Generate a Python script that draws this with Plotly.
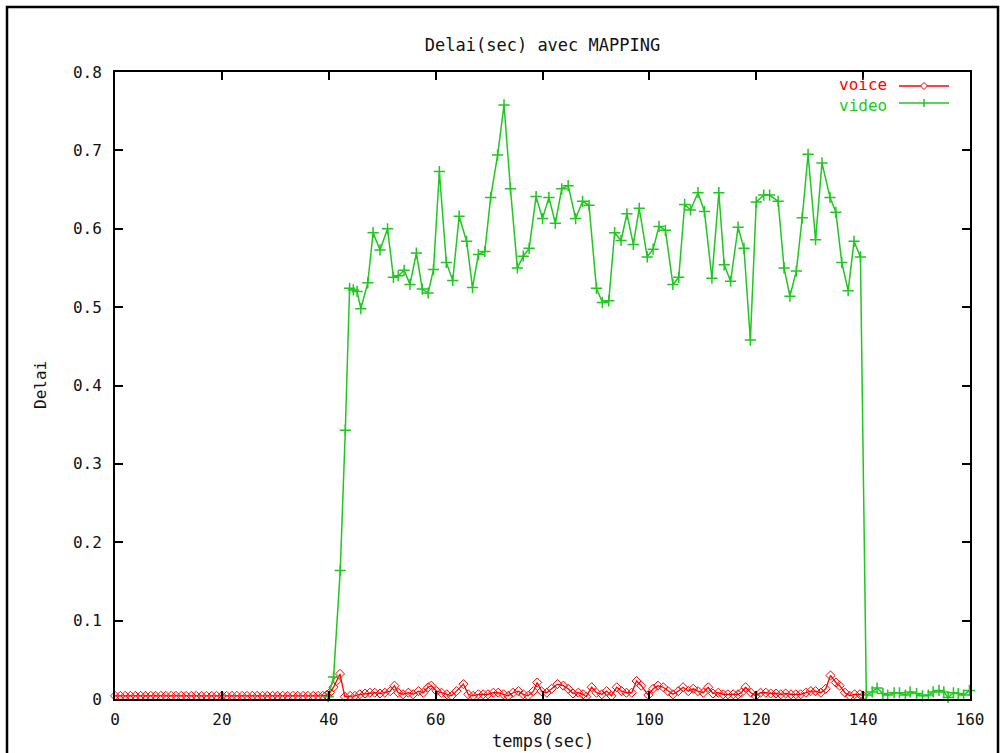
import plotly.graph_objects as go

# ---------------- data ----------------
voice_t = [0, 1, 1.9, 2.9, 3.8, 4.8, 5.7, 6.7, 7.6, 8.6, 9.5, 10.5, 11.4, 12.4, 13.3, 14.3,
           15.2, 16.2, 17.1, 18.1, 19.0, 20.0, 20.9, 21.9, 22.8, 23.8, 24.7, 25.7, 26.6, 27.6,
           28.5, 29.5, 30.4, 31.4, 32.3, 33.3, 34.2, 35.2, 36.1, 37.1, 38.0, 38.9,
           39.6, 40.2, 40.9, 41.5, 42.1, 43.0, 44.0, 44.9, 45.8, 46.8, 47.7, 48.6, 49.6, 50.5,
           51.5, 52.3, 53.0, 53.9, 54.9, 55.8, 56.8, 57.7, 58.6, 59.2, 60.2, 61.1, 62.1, 63.0,
           63.9, 65.2, 66.1, 67.0, 68.0, 68.9, 69.8, 70.8, 71.7, 72.7, 73.6, 74.5, 75.5, 76.4,
           77.3, 78.3, 79.0, 79.8, 80.8, 81.7, 82.8, 83.9, 84.8, 85.7, 86.7, 87.6, 88.2, 89.2,
           90.1, 91.1, 92.0, 92.9, 93.9, 94.8, 95.7, 96.7, 97.6, 98.5, 99.8,
           100.7, 101.6, 102.6, 103.5, 104.4, 105.4, 106.3, 107.3, 108.2, 109.1, 110.1, 111.0,
           111.9, 112.9, 113.8, 114.7, 115.7, 116.6, 117.2, 118.0, 119.0, 119.9, 120.8, 121.8,
           122.7, 123.7, 124.6, 125.5, 126.5, 127.4, 128.3, 129.3, 130.2, 131.1, 132.1, 133.0,
           133.9, 134.9, 135.6, 136.6, 137.5, 138.4, 139.4, 140.0]
voice_v = [0.004, 0.004, 0.004, 0.004, 0.004, 0.004, 0.004, 0.004, 0.004, 0.004, 0.004, 0.004,
           0.004, 0.004, 0.004, 0.004, 0.004, 0.004, 0.004, 0.004, 0.004, 0.004, 0.004, 0.004,
           0.004, 0.004, 0.004, 0.004, 0.004, 0.004, 0.004, 0.004, 0.004, 0.004, 0.004, 0.004,
           0.004, 0.004, 0.004, 0.004, 0.004, 0.004,
           0.005, 0.008, 0.015, 0.023, 0.032, 0.003, 0.004, 0.004, 0.006, 0.007, 0.008, 0.008,
           0.007, 0.008, 0.010, 0.017, 0.008, 0.006, 0.008, 0.006, 0.010, 0.008, 0.015, 0.017,
           0.010, 0.008, 0.006, 0.004, 0.010, 0.019, 0.006, 0.004, 0.006, 0.006, 0.006, 0.008,
           0.008, 0.006, 0.004, 0.008, 0.010, 0.006, 0.004, 0.010, 0.021, 0.010, 0.008, 0.013,
           0.019, 0.017, 0.013, 0.007, 0.008, 0.006, 0.003, 0.015, 0.008, 0.006, 0.010, 0.004,
           0.015, 0.010, 0.008, 0.008, 0.023, 0.017, 0.005,
           0.013, 0.017, 0.015, 0.010, 0.006, 0.010, 0.015, 0.010, 0.013, 0.010, 0.008, 0.015,
           0.007, 0.008, 0.006, 0.006, 0.006, 0.006, 0.008, 0.015, 0.008, 0.004, 0.008, 0.008,
           0.007, 0.007, 0.006, 0.007, 0.006, 0.006, 0.006, 0.008, 0.010, 0.010, 0.008, 0.013,
           0.030, 0.021, 0.017, 0.008, 0.004, 0.006, 0.006, 0.004]

video_t = [39.9, 40.9, 42.15, 43.1, 43.9, 44.6, 45.3, 46.0, 47.3, 48.3, 49.6, 51.0, 52.1,
           53.0, 54.1, 55.2, 56.4, 57.5, 58.6, 59.6, 60.7, 62.0, 63.2, 64.4, 65.8, 66.9, 68.0,
           69.2, 70.3, 71.6, 72.8, 74.0, 75.3, 76.4, 77.5, 78.8, 80.0, 81.2, 82.4, 83.6, 84.8,
           86.2, 87.5, 88.7, 90.1, 91.2, 92.4, 93.5, 94.7, 95.8, 97.0, 98.1, 99.6, 100.7, 101.8,
           103.0, 104.4, 105.5, 106.6, 107.7, 109.1, 110.3, 111.7, 113.0, 114.0, 115.2, 116.6,
           117.7, 118.9, 120.0, 121.4, 122.5, 124.1, 125.2, 126.3, 127.5, 128.6, 129.7, 131.1,
           132.3, 133.8, 134.9, 136.0, 137.2, 138.3, 139.5,
           140.6, 141.7, 142.6, 143.7, 144.6, 145.8, 146.8, 147.9, 148.8, 150.0, 151.1, 152.2,
           153.1, 154.2, 155.1, 155.9, 156.9, 157.8, 158.8, 159.9]
video_v = [0.003, 0.028, 0.164, 0.343, 0.524, 0.522, 0.520, 0.498, 0.531, 0.595, 0.573, 0.600,
           0.538, 0.540, 0.547, 0.529, 0.569, 0.523, 0.518, 0.548, 0.673, 0.557, 0.534, 0.616,
           0.584, 0.525, 0.567, 0.571, 0.640, 0.694, 0.758, 0.651, 0.550, 0.565, 0.575, 0.641,
           0.613, 0.640, 0.607, 0.651, 0.655, 0.613, 0.635, 0.630, 0.524, 0.506, 0.508, 0.595,
           0.585, 0.619, 0.580, 0.626, 0.564, 0.574, 0.603, 0.598, 0.529, 0.538, 0.631, 0.624,
           0.646, 0.622, 0.537, 0.646, 0.554, 0.533, 0.602, 0.575, 0.458, 0.634, 0.643, 0.643,
           0.635, 0.550, 0.514, 0.546, 0.614, 0.695, 0.586, 0.684, 0.640, 0.621, 0.557, 0.521,
           0.584, 0.564,
           0.005, 0.009, 0.014, 0.007, 0.005, 0.008, 0.008, 0.005, 0.009, 0.007, 0.004, 0.005,
           0.009, 0.011, 0.009, 0.002, 0.008, 0.007, 0.005, 0.011]

x_ticks = [0, 20, 40, 60, 80, 100, 120, 140, 160]
y_ticks = [0, 0.1, 0.2, 0.3, 0.4, 0.5, 0.6, 0.7, 0.8]

title_text = "Delai(sec) avec MAPPING"
x_title = "temps(sec)"
y_title = "Delai"
series_names = ["voice", "video"]
RED = "#ff0000"
GREEN = "#1ec81e"
FONT = "DejaVu Sans Mono"
TXT = "#111111"

# ---------------- geometry (pixels) ----------------
W, H = 1003, 753
L, R, T, B = 115, 970, 72, 699


def px(x):
    return (x - L) / (R - L)


def py(y):
    return (B - y) / (B - T)


fig = go.Figure()
fig.add_trace(go.Scatter(
    x=voice_t, y=voice_v, mode="lines+markers", name=series_names[0],
    line=dict(color=RED, width=1.3),
    marker=dict(symbol="diamond-open", size=7, color=RED, line=dict(width=1, color=RED)),
    cliponaxis=False, showlegend=False))
fig.add_trace(go.Scatter(
    x=video_t, y=video_v, mode="lines+markers", name=series_names[1],
    line=dict(color=GREEN, width=1.5),
    marker=dict(symbol="cross-thin", size=8, color=GREEN, line=dict(width=1.5, color=GREEN)),
    cliponaxis=False, showlegend=False))

axis_common = dict(
    showline=True, linecolor="#000000", linewidth=2, mirror="allticks",
    ticks="inside", ticklen=8, tickwidth=1.5, tickcolor="#000000",
    showgrid=False, zeroline=False,
    tickfont=dict(family=FONT, size=16, color=TXT),
)
fig.update_xaxes(range=[0, 160], tickvals=x_ticks, ticktext=[str(v) for v in x_ticks],
                 ticklabelstandoff=5, **axis_common)
fig.update_yaxes(range=[0, 0.8], tickvals=y_ticks,
                 ticktext=["0"] + ["%.1f" % v for v in y_ticks[1:]],
                 ticklabelstandoff=8, **axis_common)

annotations = [
    dict(text=x_title, x=0.5, y=py(741), xref="paper", yref="paper", showarrow=False,
         xanchor="center", yanchor="middle", font=dict(family=FONT, size=17, color=TXT)),
    dict(text=y_title, x=px(40), y=py(385), xref="paper", yref="paper", showarrow=False,
         textangle=-90, xanchor="center", yanchor="middle",
         font=dict(family=FONT, size=16, color=TXT)),
    dict(text=series_names[0], x=px(888), y=py(95), xref="paper", yref="paper",
         showarrow=False, xanchor="right", yanchor="bottom", borderpad=0,
         font=dict(family=FONT, size=16, color=RED)),
    dict(text=series_names[1], x=px(888), y=py(95), xref="paper", yref="paper",
         showarrow=False, xanchor="right", yanchor="top", borderpad=0,
         font=dict(family=FONT, size=16, color=GREEN)),
]

shapes = [
    # outer frame
    dict(type="rect", xref="paper", yref="paper", x0=px(7), x1=px(998), y0=py(775), y1=py(7),
         line=dict(color="#000000", width=2.5), fillcolor="rgba(0,0,0,0)", layer="above"),
    # legend samples
    dict(type="line", xref="paper", yref="paper", x0=px(899), x1=px(949), y0=py(86), y1=py(86),
         line=dict(color=RED, width=1.5)),
    dict(type="path", xref="paper", yref="paper",
         path="M %f,%f L %f,%f L %f,%f L %f,%f Z" % (px(924), py(82.5), px(927.5), py(86),
                                                     px(924), py(89.5), px(920.5), py(86)),
         line=dict(color=RED, width=1), fillcolor="white"),
    dict(type="line", xref="paper", yref="paper", x0=px(899), x1=px(949), y0=py(103), y1=py(103),
         line=dict(color=GREEN, width=1.5)),
    dict(type="line", xref="paper", yref="paper", x0=px(924), x1=px(924), y0=py(99), y1=py(107),
         line=dict(color=GREEN, width=1.5)),
]

fig.update_layout(
    width=W, height=H,
    margin=dict(l=L, r=W - R, t=T, b=H - B, autoexpand=False),
    paper_bgcolor="#ffffff", plot_bgcolor="#ffffff",
    title=dict(text=title_text, x=0.5, xref="paper", xanchor="center",
               y=1 - 45 / H, yref="container", yanchor="middle",
               font=dict(family=FONT, size=17, color=TXT)),
    annotations=annotations, shapes=shapes, showlegend=False,
)

fig.write_html(
    "out.html",
    config={"displayModeBar": False},
    post_script="document.body.style.margin='0';document.body.style.overflow='hidden';",
)
